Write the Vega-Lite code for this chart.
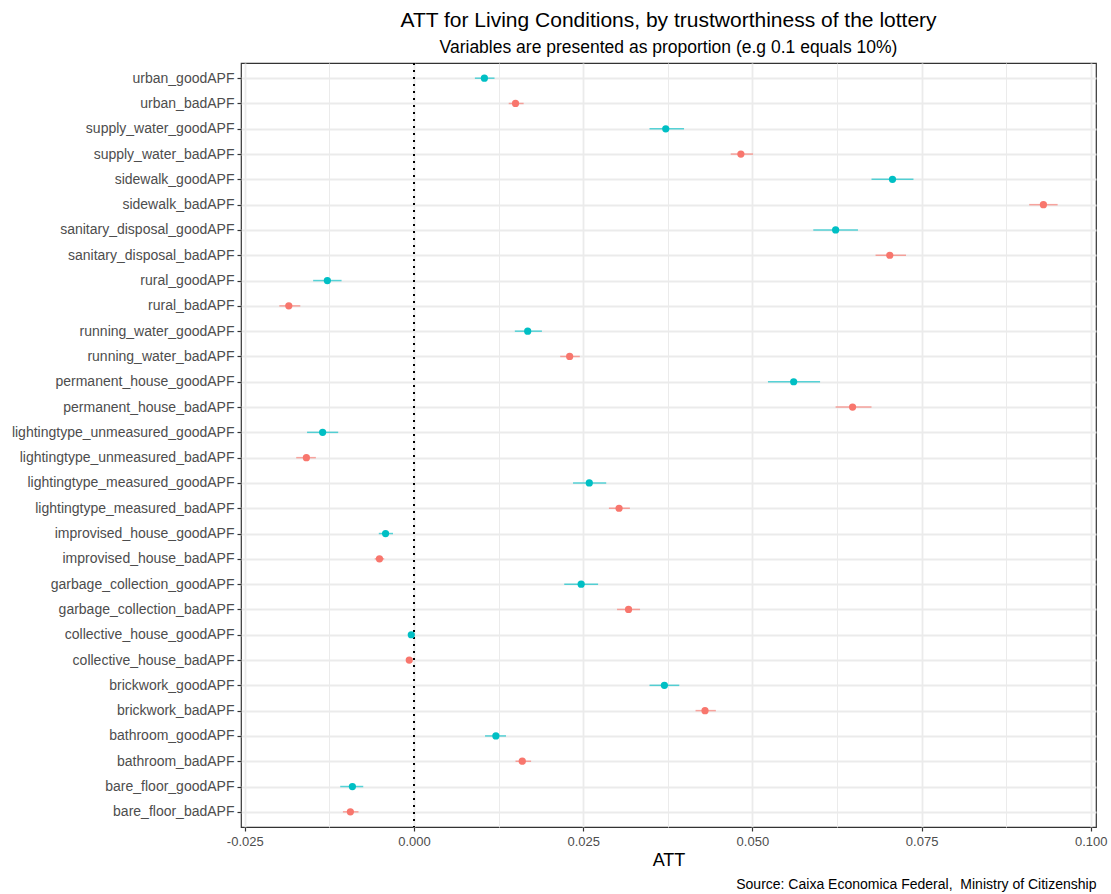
{
  "$schema": "https://vega.github.io/schema/vega-lite/v6.json",
  "autosize": {"type": "none"},
  "padding": {"left": 241, "top": 63, "right": 15, "bottom": 67},
  "background": "white",
  "width": 855,
  "height": 764,
  "title": {
    "text": "ATT for Living Conditions, by trustworthiness of the lottery",
    "subtitle": "Variables are presented as proportion (e.g 0.1 equals 10%)",
    "anchor": "middle", "frame": "group", "fontSize": 21, "subtitleFontSize": 17.5,
    "fontWeight": "normal", "color": "#000000", "subtitleColor": "#000000",
    "font": "Liberation Sans", "subtitleFont": "Liberation Sans", "subtitlePadding": 8, "offset": 6
  },
  "data": {"values": [
    {"var": "urban_goodAPF", "grp": "good", "att": 0.0104, "lo": 0.0090, "hi": 0.0119},
    {"var": "urban_badAPF", "grp": "bad", "att": 0.0150, "lo": 0.0140, "hi": 0.0162},
    {"var": "supply_water_goodAPF", "grp": "good", "att": 0.0372, "lo": 0.0348, "hi": 0.0399},
    {"var": "supply_water_badAPF", "grp": "bad", "att": 0.0483, "lo": 0.0468, "hi": 0.0501},
    {"var": "sidewalk_goodAPF", "grp": "good", "att": 0.0707, "lo": 0.0676, "hi": 0.0738},
    {"var": "sidewalk_badAPF", "grp": "bad", "att": 0.0930, "lo": 0.0909, "hi": 0.0951},
    {"var": "sanitary_disposal_goodAPF", "grp": "good", "att": 0.0623, "lo": 0.0590, "hi": 0.0656},
    {"var": "sanitary_disposal_badAPF", "grp": "bad", "att": 0.0703, "lo": 0.0682, "hi": 0.0727},
    {"var": "rural_goodAPF", "grp": "good", "att": -0.0128, "lo": -0.0149, "hi": -0.0107},
    {"var": "rural_badAPF", "grp": "bad", "att": -0.0185, "lo": -0.0199, "hi": -0.0168},
    {"var": "running_water_goodAPF", "grp": "good", "att": 0.0168, "lo": 0.0149, "hi": 0.0189},
    {"var": "running_water_badAPF", "grp": "bad", "att": 0.0230, "lo": 0.0216, "hi": 0.0245},
    {"var": "permanent_house_goodAPF", "grp": "good", "att": 0.0561, "lo": 0.0523, "hi": 0.0600},
    {"var": "permanent_house_badAPF", "grp": "bad", "att": 0.0648, "lo": 0.0623, "hi": 0.0676},
    {"var": "lightingtype_unmeasured_goodAPF", "grp": "good", "att": -0.0135, "lo": -0.0158, "hi": -0.0112},
    {"var": "lightingtype_unmeasured_badAPF", "grp": "bad", "att": -0.0159, "lo": -0.0174, "hi": -0.0145},
    {"var": "lightingtype_measured_goodAPF", "grp": "good", "att": 0.0259, "lo": 0.0235, "hi": 0.0284},
    {"var": "lightingtype_measured_badAPF", "grp": "bad", "att": 0.0303, "lo": 0.0288, "hi": 0.0319},
    {"var": "improvised_house_goodAPF", "grp": "good", "att": -0.0042, "lo": -0.0052, "hi": -0.0031},
    {"var": "improvised_house_badAPF", "grp": "bad", "att": -0.0051, "lo": -0.0058, "hi": -0.0044},
    {"var": "garbage_collection_goodAPF", "grp": "good", "att": 0.0247, "lo": 0.0222, "hi": 0.0272},
    {"var": "garbage_collection_badAPF", "grp": "bad", "att": 0.0317, "lo": 0.0300, "hi": 0.0334},
    {"var": "collective_house_goodAPF", "grp": "good", "att": -0.0004, "lo": -0.0006, "hi": -0.0002},
    {"var": "collective_house_badAPF", "grp": "bad", "att": -0.0007, "lo": -0.0009, "hi": -0.0005},
    {"var": "brickwork_goodAPF", "grp": "good", "att": 0.0370, "lo": 0.0348, "hi": 0.0392},
    {"var": "brickwork_badAPF", "grp": "bad", "att": 0.0430, "lo": 0.0416, "hi": 0.0446},
    {"var": "bathroom_goodAPF", "grp": "good", "att": 0.0121, "lo": 0.0105, "hi": 0.0136},
    {"var": "bathroom_badAPF", "grp": "bad", "att": 0.0160, "lo": 0.0150, "hi": 0.0173},
    {"var": "bare_floor_goodAPF", "grp": "good", "att": -0.0091, "lo": -0.0109, "hi": -0.0075},
    {"var": "bare_floor_badAPF", "grp": "bad", "att": -0.0094, "lo": -0.0105, "hi": -0.0082}
  ]},
  "encoding": {
    "y": {
      "field": "var", "type": "nominal", "sort": null,
      "scale": {"type": "point", "padding": 0.6},
      "axis": {"title": null, "labelFontSize": 14, "labelLimit": 400, "labelColor": "#4D4D4D", "tickSize": 4, "tickColor": "#333333", "tickWidth": 1.2, "labelPadding": 3, "domain": false, "grid": true, "gridColor": "#EBEBEB", "gridWidth": 1.8}
    }
  },
  "layer": [
    {
      "mark": {"type": "rule", "strokeWidth": 1.5, "strokeDash": [2, 5], "color": "#000000"},
      "encoding": {
        "x": {
          "datum": 0, "type": "quantitative",
          "axis": {
            "orient": "bottom", "title": "Source: Caixa Economica Federal,\u00a0 Ministry of Citizenship",
            "titleAnchor": "end", "titleFontSize": 14, "titleFontWeight": "normal", "titleColor": "#000000",
            "labels": false, "ticks": false, "grid": false, "domain": false, "titlePadding": 50
          }
        },
        "y": null
      }
    },
    {
      "mark": {"type": "rule", "strokeWidth": 1.5, "opacity": 0.65},
      "encoding": {
        "x": {"field": "lo", "type": "quantitative", "axis": null},
        "x2": {"field": "hi"},
        "color": {"field": "grp", "type": "nominal", "scale": {"domain": ["bad", "good"], "range": ["#F8766D", "#00BFC4"]}, "legend": null}
      }
    },
    {
      "mark": {"type": "circle", "size": 52, "opacity": 1},
      "encoding": {
        "x": {
          "field": "att", "type": "quantitative",
          "scale": {"domain": [-0.02556, 0.10077], "nice": false, "zero": false},
          "axis": {
            "orient": "bottom",
            "title": "ATT", "titleFontSize": 18, "titleFontWeight": "normal", "titleColor": "#000000", "titlePadding": 3,
            "values": [-0.025, -0.0125, 0, 0.0125, 0.025, 0.0375, 0.05, 0.0625, 0.075, 0.0875, 0.1],
            "labelExpr": "abs(datum.value*40 - round(datum.value*40)) > 0.1 ? '' : replace(format(datum.value, '.3f'), '\u2212', '-')",
            "labelFontSize": 13, "labelColor": "#4D4D4D", "labelPadding": 4, "labelFlush": false,
            "domain": false,
            "tickColor": "#333333", "tickWidth": 1.2,
            "tickSize": 4,
            "tickOpacity": {"condition": {"test": "abs(datum.value*40 - round(datum.value*40)) > 0.1", "value": 0}, "value": 1},
            "grid": true, "gridColor": "#EBEBEB",
            "gridWidth": {"condition": {"test": "abs(datum.value*40 - round(datum.value*40)) > 0.1", "value": 1}, "value": 1.8}
          }
        },
        "color": {"field": "grp", "type": "nominal", "scale": {"domain": ["bad", "good"], "range": ["#F8766D", "#00BFC4"]}, "legend": null}
      }
    }
  ],
  "resolve": {"axis": {"x": "independent"}},
  "config": {
    "font": "Liberation Sans",
    "view": {"stroke": "#333333", "strokeWidth": 1.2}
  }
}
